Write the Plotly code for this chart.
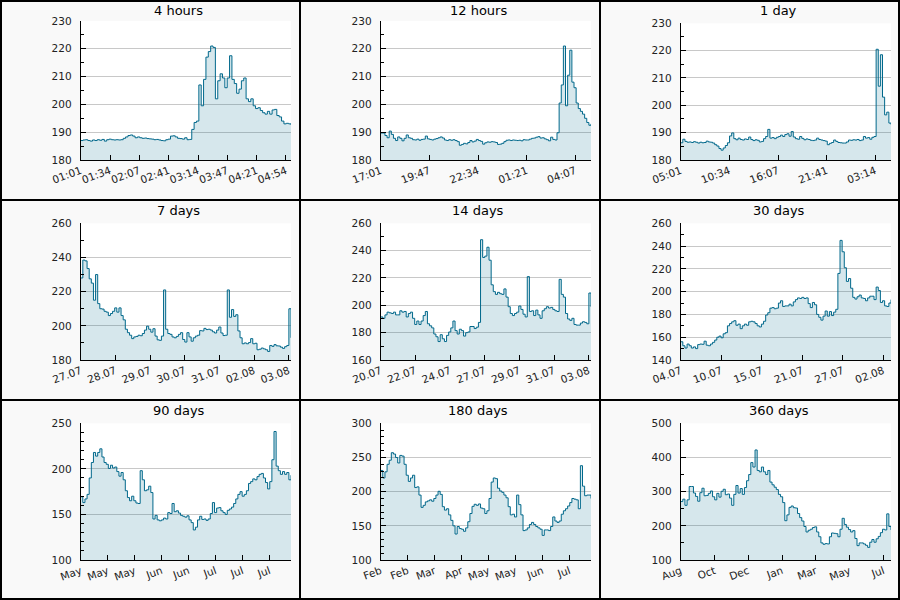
import pandas as pd
import plotly.graph_objects as go

# ---------------- data ----------------
titles = ["4 hours", "12 hours", "1 day", "7 days", "14 days", "30 days",
          "90 days", "180 days", "360 days"]

end_time = "2015-08-03 05:01"
start_times = ["2015-08-03 01:01", "2015-08-02 17:01", "2015-08-02 05:01",
               "2015-07-27 05:01", "2015-07-20 05:01", "2015-07-04 05:01",
               "2015-05-05 05:01", "2015-02-04 05:01", "2014-08-08 05:01"]

labels_4h = ["01:01", "01:34", "02:07", "02:41", "03:14", "03:47", "04:21", "04:54"]
labels_12h = ["17:01", "19:47", "22:34", "01:21", "04:07"]
labels_1d = ["05:01", "10:34", "16:07", "21:41", "03:14"]
labels_7d = ["27.07", "28.07", "29.07", "30.07", "31.07", "02.08", "03.08"]
labels_14d = ["20.07", "22.07", "24.07", "27.07", "29.07", "31.07", "03.08"]
labels_30d = ["04.07", "10.07", "15.07", "21.07", "27.07", "02.08"]
labels_90d = ["May", "May", "May", "Jun", "Jun", "Jul", "Jul", "Jul"]
labels_180d = ["Feb", "Feb", "Mar", "Apr", "May", "May", "Jun", "Jul"]
labels_360d = ["Aug", "Oct", "Dec", "Jan", "Mar", "May", "Jul"]

v_4h = [187.0, 187.2, 187.3, 187.0, 186.8, 187.2, 187.0, 187.3, 187.1, 187.4,
        186.8, 187.3, 187.5, 187.3, 187.2, 187.3, 187.2, 187.3, 187.8, 188.3,
        188.8, 189.0, 188.6, 188.0, 188.3, 188.0, 187.8, 187.9, 187.7, 187.6,
        187.5, 187.3, 187.4, 187.2, 187.0, 186.9, 187.3, 187.5, 188.6, 188.7,
        188.3, 187.8, 187.7, 187.5, 188.0, 187.3, 187.4, 191.0, 193.5, 194.0,
        207.0, 199.5, 209.0, 217.0, 219.0, 221.0, 220.5, 202.0, 208.5, 211.0,
        209.5, 206.0, 209.5, 217.5, 209.0, 207.5, 204.0, 205.5, 208.5, 209.5,
        202.0, 201.0, 202.0, 199.5, 198.5, 198.8, 197.8, 197.0, 196.5, 197.5,
        196.5, 198.0, 198.2, 196.0, 195.5, 194.0, 193.0, 193.2, 193.0, 192.7]

v_12h = [189.7, 189.7, 188.8, 188.0, 190.4, 189.2, 187.8, 187.0, 188.3, 187.8,
         186.9, 187.8, 189.0, 188.0, 187.8, 187.3, 187.2, 187.5, 187.1, 187.4,
         187.5, 188.6, 187.6, 187.4, 187.2, 187.5, 187.7, 188.0, 188.3, 187.9,
         187.2, 187.0, 187.3, 187.1, 187.3, 187.0, 186.6, 185.3, 185.6, 186.0,
         185.8, 186.3, 187.0, 186.5, 186.8, 187.4, 187.0, 186.7, 185.7, 186.2,
         186.5, 186.4, 186.6, 186.5, 186.3, 185.6, 185.7, 186.0, 186.6, 187.1,
         187.2, 187.0, 187.2, 187.1, 187.0, 187.1, 186.9, 187.3, 187.2, 187.2,
         187.5, 187.8, 187.9, 188.2, 188.4, 187.9, 188.0, 187.6, 187.3, 186.9,
         188.2, 187.4, 187.2, 189.8, 200.5, 207.0, 221.0, 199.5, 210.5, 219.5,
         208.0, 206.0, 200.5, 198.5, 197.5, 196.5, 195.0, 193.5, 192.5, 193.0]

v_1d = [186.3, 187.6, 186.8, 186.5, 186.6, 186.4, 186.7, 186.5, 186.2, 186.5,
        186.3, 186.4, 186.9, 186.6, 186.5, 186.2, 185.6, 185.1, 184.2, 183.6,
        184.4, 185.3, 186.3, 188.8, 189.9, 187.8, 187.4, 188.0, 187.5, 187.3,
        187.7, 187.5, 188.4, 187.5, 187.1, 187.4, 187.2, 186.6, 186.8, 187.8,
        188.6, 191.2, 188.0, 188.2, 187.8, 188.3, 188.6, 189.1, 188.6, 189.3,
        189.6, 188.7, 190.4, 188.4, 187.8, 187.6, 188.6, 187.9, 187.4, 187.7,
        187.5, 187.2, 187.1, 187.3, 188.0, 187.5, 187.3, 187.1, 186.9, 185.6,
        186.1, 186.4, 187.3, 186.8, 186.4, 186.3, 186.2, 186.2, 186.6, 187.3,
        187.2, 187.4, 187.3, 187.5, 187.1, 187.3, 188.6, 188.0, 188.2, 187.6,
        188.3, 188.6, 220.5, 207.0, 218.5, 203.0, 196.5, 197.5, 193.5, 193.0]

v_7d = [228.0, 238.5, 238.0, 233.5, 227.5, 225.0, 215.0, 230.0, 213.0, 210.0,
        209.8, 208.5, 208.0, 206.0, 207.2, 208.5, 210.5, 208.0, 210.5, 206.0,
        203.5, 198.0, 196.0, 194.5, 192.5, 193.5, 193.8, 194.5, 194.2, 195.5,
        197.5, 199.8, 198.0, 196.3, 198.3, 194.0, 191.8, 191.5, 194.0, 221.0,
        198.0, 195.5, 195.0, 193.5, 193.0, 193.8, 195.0, 196.0, 192.0, 190.5,
        196.0, 193.5, 191.0, 193.0, 194.0, 194.5, 197.2, 197.0, 198.5, 197.8,
        198.0, 197.5, 196.5, 195.8, 197.5, 199.3, 195.8, 194.3, 194.5, 221.0,
        205.0, 209.5, 205.5, 206.5, 197.0, 193.0, 189.5, 190.0, 189.5, 190.2,
        192.5, 189.5, 189.8, 186.0, 186.3, 187.0, 186.5, 186.0, 185.0, 188.5,
        188.0, 189.0, 188.3, 188.2, 187.5, 186.8, 187.8, 188.5, 210.0, 193.0]

v_14d = [191.5, 190.5, 193.0, 195.0, 194.5, 194.0, 195.0, 193.0, 193.0, 196.0,
         195.0, 195.5, 191.5, 194.0, 195.0, 190.5, 186.0, 188.5, 186.0, 188.5,
         192.5, 195.5, 186.5, 185.0, 183.5, 179.0, 177.0, 173.5, 178.5, 175.5,
         173.5, 178.0, 180.5, 183.5, 188.5, 181.5, 179.0, 182.5, 181.5, 177.5,
         180.0, 180.5, 184.5, 184.5, 183.0, 184.0, 187.5, 248.0, 235.0, 236.0,
         242.5, 233.0, 215.0, 210.0, 208.0, 209.5, 208.5, 208.0, 212.0, 206.0,
         199.0, 194.0, 192.5, 194.0, 195.0, 199.5, 197.0, 193.5, 191.5, 221.0,
         195.5, 196.0, 192.5, 196.5, 193.0, 190.5, 196.0, 197.5, 199.0, 198.0,
         198.5, 197.0, 196.0, 195.5, 219.0, 208.0, 206.0, 194.0, 190.0, 189.0,
         190.5, 186.0, 185.5, 185.5, 187.0, 188.0, 187.5, 186.5, 209.0, 199.0]

v_30d = [156.0, 152.5, 150.5, 154.0, 152.5, 150.5, 151.5, 150.0, 153.5, 154.0,
         153.8, 156.5, 153.0, 152.5, 154.0, 155.5, 157.5, 160.0, 161.0, 159.5,
         163.0, 164.0, 170.0, 172.0, 173.5, 174.5, 170.5, 171.5, 167.5, 170.0,
         171.5, 170.5, 173.5, 174.0, 173.5, 172.0, 170.0, 169.0, 171.5, 174.0,
         179.5, 181.5, 185.5, 186.0, 185.0, 185.5, 190.0, 192.0, 187.0, 187.5,
         187.5, 189.0, 187.5, 191.0, 193.0, 194.5, 194.0, 195.0, 194.0, 194.5,
         189.5, 186.0, 190.5, 188.5, 180.0, 177.5, 175.0, 178.5, 183.0, 178.5,
         182.5, 179.0, 182.0, 184.5, 216.0, 245.0, 235.0, 221.0, 209.0, 211.5,
         203.0, 195.0, 193.5, 195.5, 197.0, 194.5, 194.0, 192.0, 194.5, 196.0,
         196.0, 193.0, 204.0, 201.0, 190.5, 192.0, 187.5, 187.0, 190.0, 193.0]

v_90d = [169.5, 163.0, 167.0, 172.0, 190.0, 207.0, 218.0, 214.0, 218.0, 222.0,
         213.0, 207.0, 205.0, 200.5, 204.0, 201.0, 202.0, 197.0, 192.0, 196.0,
         188.0, 176.0, 168.5, 165.0, 170.0, 165.0, 162.5, 162.0, 198.0, 188.0,
         176.0, 177.0, 181.0, 174.0, 145.0, 149.0, 144.0, 143.0, 144.0, 146.0,
         145.0, 152.0, 151.0, 162.0, 153.0, 154.0, 151.5, 149.0, 148.0, 147.0,
         148.5, 144.0, 141.0, 133.0, 136.0, 144.0, 148.0, 144.5, 145.0, 143.5,
         145.0, 151.0, 163.0, 152.0, 157.0, 157.5, 154.0, 152.0, 150.0, 154.5,
         156.0, 158.0, 162.0, 167.0, 172.0, 175.0, 170.0, 172.0, 176.0, 184.0,
         186.0, 189.0, 188.0, 191.5, 194.0, 195.0, 190.0, 185.0, 178.0, 186.0,
         210.0, 241.0, 203.0, 198.0, 194.0, 197.0, 194.0, 196.0, 188.0, 193.0]

v_180d = [231.0, 220.0, 229.0, 240.0, 246.0, 257.0, 255.0, 250.0, 242.0, 253.0,
          252.0, 240.0, 224.0, 215.0, 220.0, 224.0, 206.0, 207.0, 195.0, 177.0,
          180.0, 185.0, 186.5, 188.0, 186.0, 190.0, 195.0, 200.5, 196.0, 178.0,
          173.0, 175.0, 166.0, 158.0, 150.0, 138.0, 149.0, 146.0, 145.0, 142.0,
          147.0, 156.0, 168.0, 178.5, 181.5, 180.0, 182.0, 176.0, 175.0, 168.0,
          172.0, 190.0, 214.0, 220.0, 219.0, 205.0, 201.0, 199.0, 195.0, 191.0,
          178.0, 166.0, 167.0, 163.0, 195.0, 181.0, 166.0, 143.0, 144.0, 147.0,
          152.0, 155.0, 152.0, 149.0, 147.0, 145.0, 136.0, 144.0, 144.0, 143.0,
          149.0, 163.0, 157.0, 155.0, 157.0, 167.0, 172.0, 175.0, 179.0, 184.0,
          190.0, 189.0, 188.0, 175.0, 238.0, 208.0, 194.0, 195.0, 195.0, 190.0]

v_360d = [271.0, 278.0, 260.0, 276.0, 315.0, 315.0, 296.0, 286.0, 272.0, 297.0,
          310.0, 288.0, 289.0, 295.0, 302.0, 285.0, 276.0, 295.0, 284.0, 301.0,
          307.0, 291.0, 293.0, 281.0, 260.0, 292.0, 318.0, 296.0, 309.0, 292.0,
          312.0, 332.0, 350.0, 385.0, 372.0, 422.0, 362.0, 358.0, 372.0, 358.0,
          350.0, 362.0, 328.0, 320.0, 313.0, 306.0, 292.0, 285.0, 268.0, 215.0,
          232.0, 254.0, 258.0, 253.0, 252.0, 236.0, 224.0, 214.0, 198.0, 182.0,
          187.0, 190.0, 195.0, 197.0, 182.0, 168.0, 150.0, 146.0, 148.0, 147.0,
          168.0, 179.0, 178.0, 177.0, 168.0, 190.0, 222.0, 204.0, 196.0, 189.0,
          182.0, 186.0, 163.0, 142.0, 150.0, 150.0, 147.0, 143.0, 137.0, 152.0,
          160.0, 152.0, 162.0, 169.0, 180.0, 190.0, 188.0, 235.0, 198.0, 188.0]

y_ranges = [[180, 230], [180, 230], [180, 230], [180, 260], [160, 260],
            [140, 260], [100, 250], [100, 300], [100, 500]]
y_dticks = [10, 10, 10, 20, 20, 20, 50, 50, 100]
y_minor = [5, 5, 5, 10, 10, 10, 10, 10, 50]

# ---------------- styling ----------------
values = [v_4h, v_12h, v_1d, v_7d, v_14d, v_30d, v_90d, v_180d, v_360d]
labels = [labels_4h, labels_12h, labels_1d, labels_7d, labels_14d, labels_30d,
          labels_90d, labels_180d, labels_360d]
# tick spacing as a fraction of each panel's time span
tick_frac = [0.13946, 0.23138, 0.23138, 0.16482, 0.16482, 0.19271,
             0.12814, 0.12814, 0.16059]
plot_top = [21, 21, 23.3, 23.3, 23.3, 23.3, 23.3, 23.3, 23.3]

W, H = 900, 600
LINE = "#00688b"
FILL = "rgba(0,104,139,0.16)"
FONT = "DejaVu Sans"

fig = go.Figure()
layout = dict(template="none", width=W, height=H, autosize=False,
              margin=dict(l=0, r=0, t=0, b=0, pad=0),
              paper_bgcolor="#f9f9f9", plot_bgcolor="white",
              showlegend=False, font=dict(family=FONT, size=10.5, color="#222"))
shapes = []
annotations = []

for i in range(9):
    row, col = divmod(i, 3)
    start = pd.Timestamp(start_times[i])
    end = pd.Timestamp(end_time)
    t = pd.date_range(start, end, periods=len(values[i]))
    span = end - start
    tickvals = [start + k * tick_frac[i] * span for k in range(len(labels[i]))]

    sfx = "" if i == 0 else str(i + 1)
    fig.add_trace(go.Scatter(
        x=t, y=values[i], mode="lines", line=dict(color=LINE, width=1, shape="hv"),
        fill="tozeroy", fillcolor=FILL, xaxis="x" + sfx, yaxis="y" + sfx,
        hoverinfo="x+y"))

    x0 = (col * 300 + 80.7) / W
    x1 = (col * 300 + 291) / W
    ytop = 1 - (row * 200 + plot_top[i]) / H
    ybot = 1 - (row * 200 + 160) / H

    layout["xaxis" + sfx] = dict(
        domain=[x0, x1], anchor="y" + sfx, range=[start, end], automargin=False,
        showline=True, linecolor="black", linewidth=1, mirror=False,
        ticks="inside", ticklen=5, tickcolor="black", showgrid=False,
        zeroline=False, tickmode="array", tickvals=tickvals, ticktext=labels[i],
        tickangle=-20, tickfont=dict(family=FONT, size=10.5, color="#222"))
    layout["yaxis" + sfx] = dict(
        domain=[ybot, ytop], anchor="x" + sfx, range=y_ranges[i], automargin=False,
        showline=True, linecolor="black", linewidth=1,
        ticks="inside", ticklen=5, tickcolor="black", dtick=y_dticks[i],
        tick0=0, showgrid=True, gridcolor="#c8c8c8", gridwidth=1,
        zeroline=False, ticklabelstandoff=6,
        tickfont=dict(family=FONT, size=10.5, color="#222"),
        minor=dict(dtick=y_minor[i], tick0=0, ticks="inside", ticklen=3,
                   tickcolor="black", showgrid=False))

    annotations.append(dict(
        text=titles[i], xref="paper", yref="paper",
        x=(col * 300 + 178.5) / W, y=1 - (row * 200 + 10.5) / H,
        xanchor="center", yanchor="middle", showarrow=False,
        font=dict(family=FONT, size=13, color="black")))

# panel borders
for k in range(4):
    xv = min(max(k * 300, 1), W - 1) / W
    shapes.append(dict(type="line", xref="paper", yref="paper", x0=xv, x1=xv,
                       y0=0, y1=1, line=dict(color="black", width=2)))
    yv = min(max(k * 200, 1), H - 1) / H
    shapes.append(dict(type="line", xref="paper", yref="paper", x0=0, x1=1,
                       y0=yv, y1=yv, line=dict(color="black", width=2)))

layout["shapes"] = shapes
layout["annotations"] = annotations
fig.update_layout(**layout)
fig.write_html("out.html", config={"displayModeBar": False},
               post_script="document.body.style.margin='0';"
                           "document.body.style.overflow='hidden';")
